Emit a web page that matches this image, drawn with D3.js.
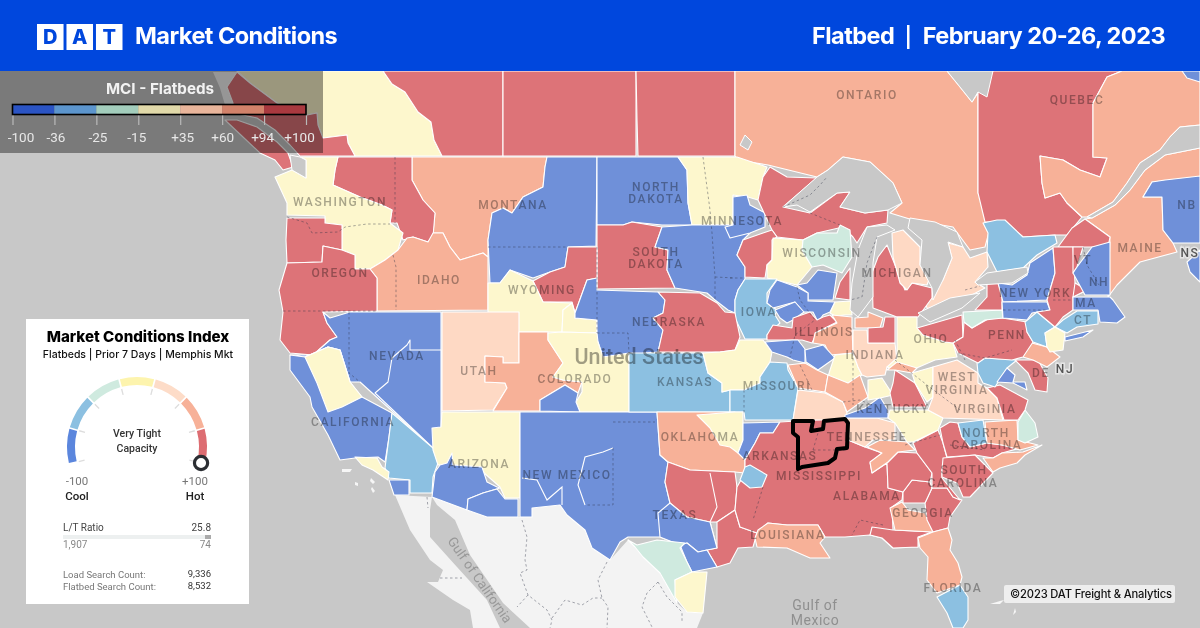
<!DOCTYPE html>
<html><head><meta charset="utf-8">
<script src="https://cdn.jsdelivr.net/npm/d3@7"></script>
<style>html,body{margin:0;padding:0;background:#c8c8c8;overflow:hidden}svg{display:block}text{font-family:Roboto,sans-serif}</style>
</head><body><svg id="c" width="1200" height="628"></svg>
<script>
// ---- legend and colour bands
const mciBreaks=[-36,-25,-15,35,60,94];
const mciColors=["#6f90d9","#8cc0e1","#cfeadf","#fdf7cd","#fed9c4","#f7b198","#dd7378"];
const legendColors=["#2b54c4","#5c95cd","#a3cdbc","#e1d9a9","#e9b59b","#d2826a","#a9393f"];
const legendLabels=["-100","-36","-25","-15","+35","+60","+94","+100"];
const gaugeColors=["#5b86dd","#8cc0e1","#cfeadf","#fdf4ae","#fddcc8","#f7b198","#dd6d72"];
// ---- market index read per region (band estimates)
const regionMci={
BC:10,BCC:97,VI:97,AB:97,SK:97,MB:97,ON:75,QC:97,QE:75,NB:-60,NBT:-60,NS:-60,ME:75,SQ:97,OE:-30,SO:45,
MTW:75,MTE:-60,ND:-60,MN:10,SD:97,ESD:-60,MNC:-60,UP:97,WCE:97,WIW:10,WIE:-20,WIS:-60,WIR:97,IA:-30,IL1:-60,IL2:-60,MIW:97,MIE:45,
EWA:97,WA:10,IDS:75,OR1:97,OR2:97,WYS:97,WY:10,WY2:10,NE:-60,NER:97,NV:-60,NVS:-60,CA:-60,CV:10,SOC:-30,SD2:-60,LA:10,
UT:45,CO:75,COE:10,COS:-60,AZ:10,AZ2:-60,AZ3:-60,SW:-60,KS:-30,KC:10,MO:-30,OK:75,OKY:10,ARB:-60,
NTX:97,ETX:97,STX:-60,STX2:-60,TXM:-20,TXY:10,SE:97,ARL:-30,LOU:75,FLP:97,GA:75,GAE:97,GAC:97,GAN:97,TNE:75,WC:97,NCR:97,NCB:-30,NCE:75,NCM:-20,SC:97,SCC:75,FL:75,FLS:-30,
ILN:10,ILR:97,ILS:75,MOE:75,MON1:-60,MON2:-60,ILY:10,KYW:45,TN:45,KYB:-60,EKY:10,INS:75,KYY:10,KYR:97,WVY:10,WVP:45,VAR:97,VAN:-30,VAB:-60,MD:97,NJP:75,
INP:45,INA:75,INB:97,OH:10,OHS:75,OHN:97,PA:97,PAM:-20,NYW:97,NY:-60,NYS:-60,NYE:-30,HUD:97,VTR:97,NHR:97,VT:-60,MA:-60,CT:-30,NYC:10,LI:-60
};
// ---- region outlines digitised on the 1200x628 map grid
const regionOutlines={
BC:"237,71 383,71 392,84 405,92 418,112 431,122 434,140 442,156 355,156 348,143 347,135 323,138 318,125 317,113 307,115 277,103 250,83",
BCC:"227,87 237,72 250,83 277,103 307,115 317,113 318,125 323,138 347,135 348,143 355,156 300,156 290,145 275,130 257,118 233,113 233,103",
VI:"225,120 237,120 257,127 277,142 288,153 293,167 283,170 275,160 260,153 243,137",
AB:"383,71 503,71 503,156 442,156 434,140 431,122 418,112 405,92 392,84",
SK:"503,71 636,71 636,156 503,156",
MB:"636,71 735,71 735,156 638,156 637,120",
ON:"735,71 947,71 960,87 972,102 978,93 978,193 993,217 985,247 970,250 953,227 913,220 890,213 902,203 893,183 870,162 843,157 828,170 817,177 768,165 738,160 735,156",
QC:"978,93 993,71 1122,71 1107,77 1093,103 1093,157 1107,158 1100,177 1080,170 1063,160 1040,156 1042,183 1045,198 1060,193 1067,203 1082,217 1067,235 1055,235 1023,237 1005,222 985,222 978,193",
QE:"1122,71 1200,71 1200,125 1180,127 1170,137 1160,150 1140,163 1127,183 1113,202 1087,217 1082,217 1067,203 1060,193 1045,198 1042,183 1040,156 1063,160 1080,170 1100,177 1107,158 1093,157 1093,103 1107,77",
ME:"1085,219 1092,218 1115,205 1130,190 1145,170 1165,155 1200,148 1200,177 1152,182 1143,197 1162,197 1163,230 1173,243 1177,252 1140,262 1117,285 1108,297 1110,237",
NB:"1152,182 1165,180 1200,176 1200,243 1173,243 1163,230 1162,197 1143,197",
NBT:"1182,71 1200,71 1200,82 1187,78",
NS:"1187,262 1200,250 1200,282 1190,272",
SQ:"1085,219 1110,237 1108,247 1058,247 1072,228",
OE:"983,223 997,220 1005,220 1023,237 1055,235 1057,243 1037,255 1023,268 997,272 987,252 988,233",
SO:"948,243 963,247 970,258 987,252 988,267 975,282 985,288 968,297 940,305 928,310 925,303 932,297 935,290 943,280 952,258",
MTW:"412,157 547,157 545,167 543,187 523,197 512,213 503,208 492,213 488,240 488,257 483,253 460,260 450,247 443,233 433,233 435,213 423,200 412,180",
MTE:"547,157 597,157 596,246 568,247 565,267 550,272 533,278 510,270 500,283 490,283 488,240 492,213 503,208 512,213 523,197 543,187 545,167",
ND:"597,157 678,157 687,170 688,203 692,225 662,225 632,222 623,225 597,225",
MN:"678,157 737,157 767,167 763,177 758,200 748,197 733,195 733,225 692,225 688,203 687,170",
SD:"597,225 623,225 632,222 662,227 655,247 668,250 667,270 675,288 597,289",
ESD:"662,227 692,225 733,225 750,233 743,240 737,255 745,267 745,279 738,290 735,300 735,313 728,310 715,300 707,293 675,288 667,270 668,250 655,247",
MNC:"733,197 747,195 750,205 765,213 765,227 750,233 730,238 725,227 733,225",
UP:"770,167 787,177 817,178 783,207 810,213 837,193 850,192 840,207 865,213 888,210 887,223 867,227 857,243 853,237 843,227 817,233 803,240 777,237 772,230 758,200 763,177",
WCE:"772,230 777,237 772,240 772,260 767,265 765,278 745,277 745,267 737,255 743,240 763,233",
WIW:"773,238 803,240 802,250 812,267 797,285 767,278 767,265 772,260",
WIE:"803,240 817,233 837,233 840,225 850,230 852,257 842,273 823,265 812,267 802,250",
WIS:"797,285 807,283 818,270 837,273 833,300 808,300 808,293",
WIR:"835,298 840,282 850,268 850,300",
IA:"745,279 777,279 767,293 767,303 777,310 775,315 780,323 767,335 767,339 745,339 735,318 735,300 738,290",
IL1:"777,280 797,287 808,293 808,301 835,302 830,312 823,315 818,322 813,312 803,312 795,302 773,308 767,303 770,290",
IL2:"775,310 795,302 804,312 793,320 787,323 780,318",
MIW:"887,245 897,270 905,290 912,283 932,288 932,298 918,317 897,317 873,308 872,273 878,257",
MIE:"892,233 903,230 920,247 920,265 930,277 927,285 912,283 907,290 900,283 893,257",
EWA:"338,157 412,157 412,180 423,200 435,213 433,237 428,242 413,237 403,240 397,223 390,223 392,210 382,205 360,197 333,185 335,170",
WA:"300,157 338,157 335,170 333,185 360,197 382,205 392,210 390,223 403,233 398,250 385,260 370,269 355,269 355,255 342,250 342,225 325,223 325,216 287,215 287,203 275,177 292,170 306,178 306,160",
IDS:"370,269 385,260 398,250 407,238 413,237 428,242 433,233 443,233 450,247 460,260 483,253 488,257 488,310 377,311 377,278",
OR1:"287,218 325,218 325,223 342,225 342,250 323,246 322,262 287,263 286,240",
OR2:"287,263 322,262 323,246 342,250 355,255 355,269 370,269 377,278 377,311 323,312 327,323 337,337 330,340 313,355 290,353 280,340 283,312 279,290",
WYS:"533,281 550,272 565,267 568,247 597,247 597,278 587,280 575,313 572,302 543,302",
WY:"488,283 500,283 510,270 533,281 543,302 572,303 563,310 562,332 488,332",
WY2:"563,310 572,303 575,313 575,318 597,320 597,333 562,332",
NE:"587,280 597,278 597,290 658,292 665,300 663,313 653,318 663,330 658,352 603,357 598,342 590,333 597,333 597,320 575,318 575,313",
NER:"658,292 700,293 717,303 725,312 735,313 740,337 735,350 720,352 658,352 663,330 653,318 663,313 665,300",
NV:"323,312 330,318 350,312 441,312 441,452 433,448 360,382 350,382 340,350 328,347 305,357 290,355 313,355 330,340 337,337 327,323",
NVS:"410,340 410,350 441,350 441,450 433,448 375,393 388,382 392,358 407,345",
CA:"290,355 305,357 328,347 340,350 350,382 362,397 392,413 389,437 385,462 378,457 355,458 340,460 328,435 312,407 310,397 290,370",
CV:"305,357 328,347 340,350 350,382 362,397 342,407 328,412 317,383",
SOC:"392,413 433,448 438,463 433,477 432,493 410,493 410,480 389,478 385,468 389,437",
SD2:"389,480 409,480 409,495 394,495",
LA:"355,457 377,458 382,467 389,472 388,480 373,470 362,465",
UT:"442,312 519,312 519,363 503,363 503,357 485,356 485,382 505,383 507,388 493,410 442,411",
CO:"519,332 548,332 548,340 563,363 553,377 563,380 582,382 578,393 565,385 540,400 540,411 493,411 507,388 505,383 485,382 485,356 503,357 503,363 519,363",
COE:"548,333 562,332 597,333 598,342 603,357 629,353 629,412 580,412 576,402 582,392 582,382 563,380 553,377 563,363 548,340",
COS:"540,411 540,400 565,385 578,393 576,402 580,412",
AZ:"442,412 520,412 520,498 505,498 500,487 483,472 482,467 453,465 438,465 433,450 432,428 441,427",
AZ2:"452,453 453,465 482,467 487,482 497,487 500,488 483,493 468,499 467,510 432,497 435,472 440,465 447,463",
AZ3:"468,499 483,493 497,489 505,499 518,499 518,517 487,517 467,510",
SW:"520,412 657,412 660,455 668,462 665,482 670,503 687,517 710,522 717,548 707,550 698,552 687,543 680,545 660,537 628,537 620,542 610,560 592,548 585,530 567,515 560,505 532,508 532,517 520,517",
KS:"629,353 703,353 708,373 722,383 722,392 730,390 730,412 629,412",
KC:"703,353 720,352 735,350 740,340 763,340 772,352 770,362 760,377 760,383 745,390 730,390 722,392 722,383 708,373",
MO:"744,390 760,383 760,377 770,362 787,363 788,370 798,388 793,420 745,420 744,412 730,412 730,390",
OK:"657,412 735,412 735,447 745,458 745,473 735,472 690,470 668,462 660,455",
OKY:"697,415 735,412 743,412 743,440 738,453 730,447 720,445 710,428",
ARB:"743,423 780,422 773,433 760,433 755,443 745,460 738,453 743,440",
NTX:"668,462 690,470 735,472 737,487 735,510 717,522 710,522 687,517 670,503 665,482",
ETX:"717,522 735,510 740,527 757,533 753,547 738,548 730,563 717,567 707,550 717,548",
STX:"658,513 670,503 687,517 710,522 717,548 707,550 698,552 687,543 680,545 660,537",
STX2:"680,545 687,543 698,552 707,550 717,567 692,572 687,562",
TXM:"628,540 637,545 657,540 685,543 680,548 687,562 692,572 675,580 677,603 660,573 643,557 635,547",
TXY:"675,580 692,572 707,572 703,613 687,612 675,597",
SE:"780,422 848,418 848,440 865,447 882,453 870,463 872,473 887,463 888,488 903,492 902,500 892,507 893,530 925,532 918,537 918,547 893,548 882,538 870,535 845,537 825,537 818,525 787,525 768,523 757,533 740,527 735,510 737,487 745,473 745,460 755,443 760,433 773,433",
ARL:"745,467 750,465 767,475 762,487 750,488 740,480",
LOU:"758,530 768,523 787,525 818,525 825,537 820,543 830,558 810,558 787,548 757,547 755,538",
FLP:"872,527 893,530 932,532 918,537 918,547 893,548 882,538 870,535",
GA:"890,508 902,502 908,510 925,513 933,532 895,530",
GAE:"925,503 932,488 947,488 953,497 962,500 950,517 948,528 933,532 927,520",
GAC:"903,492 912,480 930,482 932,488 925,503 903,503",
GAN:"887,463 898,452 917,453 932,473 930,482 912,480 903,492 888,488",
TNE:"867,447 880,440 907,442 915,450 898,452 888,462 872,473 870,462 882,453",
WC:"913,443 938,430 943,443 947,458 942,470 942,478 960,500 953,497 947,488 932,488 932,473 917,453",
NCR:"940,428 950,422 958,423 962,437 970,447 987,443 1002,445 1020,448 1002,453 993,458 975,455 947,457 943,443",
NCB:"958,423 983,420 987,443 970,447 962,437",
NCE:"985,422 1017,420 1018,440 1038,445 1020,450 1002,445 987,443",
NCM:"1018,422 1025,410 1035,423 1038,437 1025,443 1018,440",
SC:"943,458 975,455 993,473 970,497 963,497 957,483 942,477 942,470",
SCC:"993,472 983,458 993,458 1002,453 1023,452 1042,445 1025,455 1017,463 1000,468",
FL:"918,538 933,532 948,528 952,540 950,550 958,563 962,577 960,585 937,593 927,580 928,557 920,548",
FLS:"937,597 960,585 968,597 968,620 963,628 953,628 947,613",
ILN:"830,313 835,302 851,301 852,315 845,315 835,316",
ILR:"767,335 773,325 792,328 793,318 810,312 817,320 823,317 830,315 837,322 817,332 812,343 802,340 767,340",
ILS:"815,333 837,323 832,315 852,317 852,328 853,353 830,355 825,345 813,343",
MOE:"788,365 805,363 817,370 828,375 825,392 798,388",
MON1:"765,342 792,340 798,340 805,349 805,363 793,360 787,357 772,352",
MON2:"805,350 823,345 835,358 818,370 806,362",
ILY:"830,370 835,355 853,353 858,367 862,375 848,383 828,377",
KYW:"798,390 825,393 843,402 847,413 845,420 793,420",
TN:"847,418 877,418 895,423 895,440 873,440 865,447 848,440",
KYB:"845,415 865,408 880,397 888,410 888,418 845,418",
EKY:"888,418 890,410 928,410 943,418 938,430 913,442 907,442 895,423",
INS:"828,375 848,383 860,375 868,397 847,412 843,402 825,392",
KYY:"868,380 882,378 893,395 880,398 868,400",
KYR:"895,370 915,383 927,407 893,407 890,393 893,383",
WVY:"912,373 933,367 933,397 927,402 915,383",
WVP:"933,367 957,360 978,373 978,383 987,388 997,398 1003,420 943,418 928,410 933,397",
VAR:"987,388 1000,385 1028,400 1025,410 1018,420 1004,420 997,398",
VAN:"977,363 985,358 1017,360 1007,368 995,387 983,383 978,373",
VAB:"997,382 1007,368 1015,375 1013,382 1025,382 1027,390 1013,383",
MD:"1015,360 1038,360 1048,378 1047,392 1035,390 1028,373",
NJP:"1028,342 1047,347 1060,357 1047,367 1033,360 1023,357",
INP:"853,330 867,330 868,343 895,343 897,362 887,367 885,375 867,377 862,375 858,367 853,353",
INA:"855,318 868,317 868,312 883,318 880,328 867,328 855,328",
INB:"868,328 883,327 885,317 895,317 895,343 868,343",
OH:"897,317 917,317 917,328 923,335 945,342 953,343 957,357 935,360 912,370 895,370 887,367 897,358",
OHS:"887,370 897,362 917,368 912,373 895,370",
OHN:"917,328 962,315 963,337 953,343 945,342 923,335",
PA:"964,322 972,328 990,318 1002,318 1027,322 1027,332 1033,342 1023,357 1012,360 985,358 978,363 958,353 953,343 963,337",
PAM:"963,312 1002,310 1003,318 985,320 972,328 964,322",
NYW:"975,310 987,297 987,283 998,283 1002,293 1002,310",
NY:"998,283 1012,285 1027,275 1030,263 1053,248 1055,273 1047,300 1003,302",
NYS:"1002,302 1047,302 1050,310 1032,313 1027,320 1003,318",
NYE:"1025,322 1037,312 1055,327 1045,333 1047,347 1033,342 1027,332",
HUD:"1053,247 1073,247 1075,283 1087,290 1073,297 1073,310 1063,317 1055,327 1037,312 1050,310 1047,300 1055,273",
VTR:"1073,247 1083,247 1077,267 1073,273",
NHR:"1075,283 1087,290 1073,297",
VT:"1077,267 1092,247 1110,242 1110,295 1085,295 1073,273",
MA:"1073,297 1110,297 1113,300 1125,317 1117,323 1100,322 1098,310 1073,310",
CT:"1077,311 1098,311 1098,324 1077,327 1067,333 1055,327 1063,320",
NYC:"1047,347 1045,333 1055,327 1065,333 1063,350 1050,352",
LI:"1065,337 1093,330 1083,337 1065,341"
};
const lakeOutlines=[
"783,207 797,205 810,212 837,193 850,192 840,207 865,213 888,210 902,203 893,183 870,162 843,157 828,170 817,177",
"867,227 887,225 895,230 877,237 873,263 873,297 858,317 850,310 852,283 858,250",
"910,218 935,222 957,232 963,247 948,242 952,258 943,280 933,300 932,288 920,265 922,240 908,228",
"918,313 950,298 980,293 962,308 930,322",
"975,282 987,273 1027,267 1028,273 1012,283 978,285",
"947,71 993,71 987,97 978,92 972,102 960,87",
"1200,125 1180,127 1170,137 1160,150 1140,163 1127,183 1113,202 1087,217 1092,218 1115,205 1130,190 1145,170 1165,155 1200,148",
"745,135 752,142 748,150 740,145",
"290,155 300,157 306,160 306,178 292,170"
];
const mexicoOutlines=[
"395,495 432,497 430,510 430,537 457,567 487,600 500,628 473,628 470,610 453,600 427,582 438,582 443,570 430,560 410,530",
"432,497 487,517 532,517 532,508 560,505 585,530 592,548 610,560 628,540 660,573 677,603 687,612 703,613 697,628 530,628 503,603 470,555 455,520 437,505"
];
const islandOutlines=[
"342,469 352,469 350,472 342,472","355,482 358,483 358,486 355,485","371,478 375,482 373,484 370,481","372,487 375,491 373,493 371,489",
"990,604 1000,601 1004,600 1000,604","1014,604 1016,612 1013,615 1015,608",
"213,72 237,72 227,87 233,103 243,113 225,105 220,88"
];
const stateLines=[
"287,217 307,223 312,233 338,232 345,227 367,224 390,224","395,157 395,223","393,255 396,267 396,310","488,247 568,247","283,311 377,311",
"349,312 349,373 360,382","703,157 710,210 712,233 715,277 715,300","715,277 735,278","597,247 597,333","597,333 628,333 629,353",
"613,422 655,422","613,448 613,505 585,505","522,520 527,537 525,560 527,570 520,573 528,595 547,610 552,620 550,628",
"607,562 598,580 602,598 608,607 607,628","528,595 517,607","552,618 565,600 582,605 593,598 602,598",
"658,582 647,593 642,607 652,627","658,582 667,597 682,612 682,623","427,497 428,508","440,578 462,578",
"783,207 810,195 820,185 827,177","810,213 840,225","877,237 867,263 862,297 850,300","730,278 745,278","797,287 800,300 815,320 795,335 790,357","800,365 812,390",
"813,450 848,450","813,450 818,433","763,487 753,520","883,525 860,520 852,535","1003,310 1047,310","1053,300 1073,300",
"950,445 985,450","905,445 940,435","1083,247 1087,265 1099,285","744,390 744,415","853,353 853,405","895,360 927,385 960,410","958,353 985,358 1012,350",
"955,340 965,360","965,290 980,286","843,402 860,400 872,405"
];
const whiteLines=[
"522,478 537,480 547,500 562,487 562,505","613,448 603,452 585,457 578,485 585,505","710,473 717,507 710,522"
];
// ---- memphis market
const memphisOutline="793,421 813,421 811,431 823,429 824,421 845,419 848,423 847,448 837,449 835,458 828,463 802,467 798,469 798,437 793,433";
// ---- labels
const stateLabelText=["WASHINGTON","MONTANA","NORTH","DAKOTA","MINNESOTA","SOUTH","DAKOTA","OREGON","IDAHO","WYOMING","NEBRASKA","ONTARIO","QUEBEC","MAINE","NB","WISCONSIN","MICHIGAN","IOWA","ILLINOIS","NEW YORK","VT","NH","MA","CT","PENN","OHIO","NEVADA","UTAH","COLORADO","KANSAS","CALIFORNIA","ARIZONA","NEW MEXICO","OKLAHOMA","TEXAS","MISSOURI","INDIANA","WEST","VIRGINIA","KENTUCKY","VIRGINIA","TENNESSEE","NORTH","CAROLINA","ARKANSAS","MISSISSIPPI","SOUTH","CAROLINA","ALABAMA","GEORGIA","LOUISIANA","FLORIDA","DE"];
const stateLabelX=[340,513,656,656,742,656,656,340,439,542,669,867,1077,1140,1187,822,897,759,824,1035,1083,1099,1086,1083,1007,931,397,479,575,685,353,479,567,700,675,777,875,957,957,893,985,867,986,987,780,819,964,963,867,923,788,953,1041];
const stateLabelY=[206,209,191,203,225,256,268,277,284,294,326,99,104,252,209,257,277,316,336,297,264,286,307,324,339,343,360,375,383,386,426,468,479,441,519,390,359,381,394,413,413,441,437,449,460,480,474,487,500,517,539,592,377];
const haloLabelText=["NS","NJ"], haloLabelX=[1190,1065], haloLabelY=[257,373];
// ---- gauge card values
const gaugeValue=100, ltRatio="25.8", ltLoads="1,907", ltTrucks="74", loadSearch="9,336", truckSearch="8,532";

const svg=d3.select("#c");
const gx=d3.scaleLinear([0,1200],[0,1200]), gy=d3.scaleLinear([0,628],[0,628]);
const parse=s=>s.split(" ").map(p=>p.split(",").map(Number));
const closed=d3.line().x(d=>gx(d[0])).y(d=>gy(d[1])).curve(d3.curveLinearClosed);
const open=d3.line().x(d=>gx(d[0])).y(d=>gy(d[1]));
const color=d3.scaleThreshold(mciBreaks,mciColors);

svg.append("rect").attr("width",1200).attr("height",628).attr("fill","#c8c8c8");
const map=svg.append("g");
map.selectAll(".mx").data(mexicoOutlines).join("path").attr("d",d=>closed(parse(d))).attr("fill","#f3f3f3");
map.selectAll(".isl").data(islandOutlines).join("path").attr("d",d=>closed(parse(d))).attr("fill","#f6f6f6");
map.selectAll(".reg").data(Object.keys(regionOutlines)).join("path")
  .attr("d",k=>closed(parse(regionOutlines[k]))).attr("fill",k=>color(regionMci[k]))
  .attr("stroke","#fff").attr("stroke-width",1.1).attr("stroke-linejoin","round");
map.selectAll(".wl").data(whiteLines).join("path").attr("d",d=>open(parse(d))).attr("fill","none").attr("stroke","#fff").attr("stroke-width",1.1);
map.selectAll(".lk").data(lakeOutlines).join("path").attr("d",d=>closed(parse(d))).attr("fill","#c8c8c8").attr("stroke","#fff").attr("stroke-width",1);
map.selectAll(".sl").data(stateLines).join("path").attr("d",d=>open(parse(d))).attr("fill","none")
  .attr("stroke","rgba(45,50,70,.42)").attr("stroke-width",1).attr("stroke-dasharray","2.5 2.5");

// labels
map.selectAll(".st").data(stateLabelText).join("text")
  .attr("x",(d,i)=>gx(stateLabelX[i])).attr("y",(d,i)=>gy(stateLabelY[i])).attr("text-anchor","middle")
  .attr("font-size",12).attr("letter-spacing",1.6).attr("font-weight",500)
  .attr("fill","#ababab").style("mix-blend-mode","multiply").text(d=>d);
map.selectAll(".hl").data(haloLabelText).join("text")
  .attr("x",(d,i)=>gx(haloLabelX[i])).attr("y",(d,i)=>gy(haloLabelY[i])).attr("text-anchor","middle")
  .attr("font-size",12).attr("letter-spacing",1.6).attr("font-weight",500)
  .attr("fill","#555").attr("stroke","rgba(235,235,235,.85)").attr("stroke-width",3).attr("paint-order","stroke").text(d=>d);
map.append("text").attr("x",639).attr("y",364).attr("text-anchor","middle").attr("font-size",21.5).attr("font-weight",500)
  .attr("fill","#a2a2a2").style("mix-blend-mode","multiply").text("United States");
map.append("text").attr("transform","translate(447,541) rotate(55)").attr("font-size",13.5).attr("fill","#989898").text("Gulf of California");
map.append("text").attr("x",815).attr("y",610).attr("text-anchor","middle").attr("font-size",14).attr("letter-spacing",.5).attr("fill","#8f8f8f").text("Gulf of");
map.append("text").attr("x",815).attr("y",625).attr("text-anchor","middle").attr("font-size",14).attr("letter-spacing",.5).attr("fill","#8f8f8f").text("Mexico");

// memphis
map.append("path").attr("d",closed(parse(memphisOutline))).attr("fill","none").attr("stroke","#000").attr("stroke-width",4).attr("stroke-linejoin","round");

// header
svg.append("rect").attr("width",1200).attr("height",71).attr("fill","#0047dd");
const logoX=d3.scaleBand(["D","A","T"],[37,122.5]).paddingInner(.1);
svg.selectAll(".lg").data(logoX.domain()).join("rect").attr("x",d=>logoX(d)).attr("y",24).attr("width",logoX.bandwidth()).attr("height",26).attr("fill","#fff");
svg.selectAll(".lgt").data(logoX.domain()).join("text").attr("x",d=>logoX(d)+logoX.bandwidth()/2).attr("y",44).attr("text-anchor","middle")
  .attr("font-size",20).attr("font-weight",800).attr("fill","#0047dd").style("font-family","Inter").text(d=>d);
const hdr=(t,x,a)=>svg.append("text").attr("x",x).attr("y",44).attr("text-anchor",a).attr("font-size",23.5).attr("font-weight",700).attr("fill","#fff").style("font-family","Inter").attr("letter-spacing",-.55).text(t);
hdr("Market Conditions",135,"start");
hdr("Flatbed",812,"start");
svg.append("rect").attr("x",907).attr("y",25).attr("width",2.5).attr("height",24).attr("fill","#fff");
hdr("February 20-26, 2023",1165,"end");

// legend panel
svg.append("rect").attr("y",71).attr("width",323).attr("height",82).attr("fill","rgba(0,0,0,.39)");
svg.append("text").attr("x",160).attr("y",94).attr("text-anchor","middle").attr("font-size",15.2).attr("font-weight",700).attr("fill","#f2f2f2").style("font-family","Inter").text("MCI - Flatbeds");
const lx=d3.scalePoint(legendLabels,[12.5,306]);
const ax=svg.append("g").attr("transform","translate(0,114)").call(d3.axisBottom(lx).tickSize(11).tickPadding(4));
ax.select(".domain").remove();
ax.selectAll("line").attr("stroke","#b9b9b9").attr("stroke-width",1.2);
ax.selectAll("text").attr("font-size",13.5).attr("fill","#e8e8e8").style("font-family","Roboto").attr("dy",".95em");
ax.selectAll("text").attr("dx",(d,i)=>[8,1,1,-2,2,0,-2,-7][i]);
svg.selectAll(".lb").data(legendColors).join("rect").attr("x",(d,i)=>lx(legendLabels[i])).attr("y",105).attr("width",(d,i)=>lx(legendLabels[i+1])-lx(legendLabels[i])).attr("height",9).attr("fill",d=>d);
svg.append("rect").attr("x",12.5).attr("y",104.5).attr("width",293.5).attr("height",10).attr("fill","none").attr("stroke","#000").attr("stroke-width",1.6);

// copyright
svg.append("rect").attr("x",1004).attr("y",585).attr("width",171).attr("height",18).attr("rx",2).attr("fill","rgba(240,240,240,.95)");
svg.append("text").attr("x",1010).attr("y",598).attr("font-size",11.2).attr("font-weight",500).attr("fill","#111").style("font-family","Inter").attr("letter-spacing",-.15).text("©2023 DAT Freight & Analytics");

// gauge card
const card=svg.append("g");
card.append("rect").attr("x",26).attr("y",319).attr("width",223).attr("height",285).attr("fill","#fff");
const t=(s,x,y,size,w,f,a="start",fam="Roboto")=>card.append("text").attr("x",x).attr("y",y).attr("font-size",size).attr("font-weight",w).attr("fill",f).attr("text-anchor",a).style("font-family",fam).text(s);
t("Market Conditions Index",138,342,15.1,800,"#000","middle","Inter");
t("Flatbeds | Prior 7 Days | Memphis Mkt",138,358,10.5,500,"#111","middle","Inter");
const gc=card.append("g").attr("transform","translate(137,447)");
const span=104*Math.PI/180;
const pie=d3.pie().value(1).sort(null).startAngle(-span).endAngle(span).padAngle(.018);
const garc=d3.arc().innerRadius(62).outerRadius(70);
gc.selectAll(".ga").data(pie(gaugeColors)).join("path").attr("d",garc).attr("fill",d=>d.data);
const ang=d3.scaleLinear([0,7],[-span,span]);
gc.selectAll(".gt").data(d3.range(8)).join("line")
  .attr("x1",d=>54*Math.sin(ang(d))).attr("y1",d=>-54*Math.cos(ang(d)))
  .attr("x2",d=>60*Math.sin(ang(d))).attr("y2",d=>-60*Math.cos(ang(d)))
  .attr("stroke","#ddd").attr("stroke-width",1.3);
const ga=d3.scaleLinear([-100,100],[-span,span]);
gc.append("circle").attr("cx",66*Math.sin(ga(gaugeValue))).attr("cy",-66*Math.cos(ga(gaugeValue))).attr("r",6.6).attr("fill","#fff").attr("stroke","#2b2e33").attr("stroke-width",3.2);
t("Very Tight",137,437,10.5,500,"#333","middle");
t("Capacity",137,452,10.5,500,"#333","middle");
t("-100",77,485,11.5,400,"#777","middle");
t("+100",195,485,11.5,400,"#777","middle");
t("Cool",77,500,11.5,500,"#222","middle");
t("Hot",195,500,11.5,500,"#222","middle");
t("L/T Ratio",63,531,10,400,"#444");
t(ltRatio,211,531,10,400,"#444","end");
card.append("rect").attr("x",63).attr("y",535).attr("width",148).attr("height",4).attr("fill","#edf0f0");
card.append("rect").attr("x",205).attr("y",535).attr("width",6).attr("height",4).attr("fill","#aaa");
t(ltLoads,63,548,10,400,"#888");
t(ltTrucks,211,548,10,400,"#888","end");
t("Load Search Count:",63,578,9.5,400,"#777");
t("Flatbed Search Count:",63,590,9.5,400,"#777");
t(loadSearch,211,577,9.5,400,"#333","end");
t(truckSearch,211,589,9.5,400,"#333","end");
</script></body></html>
